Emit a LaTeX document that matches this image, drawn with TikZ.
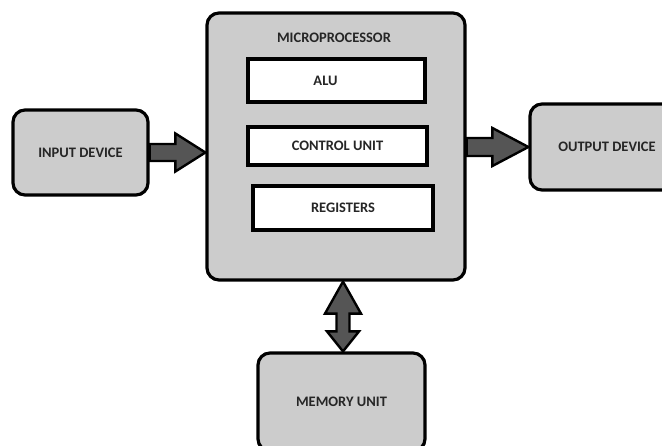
\documentclass[tikz,border=0pt]{standalone}
\usepackage{fontspec}
\setmainfont{Carlito}
\usepackage{tikz}
\usetikzlibrary{positioning,calc}

\definecolor{boxgray}{HTML}{CCCCCC}
\definecolor{arrowgray}{HTML}{555555}

\tikzset{
  lbl/.style={font=\bfseries\fontsize{14.5}{16}\selectfont, text=black!85},
  block/.style={lbl, draw=black, line width=3.2pt, fill=boxgray, rounded corners=12pt},
  unit/.style={lbl, draw=black, line width=3.6pt, fill=white},
  fat/.style={draw=black, line width=2.4pt, fill=arrowgray, line join=miter}
}

\begin{document}
\begin{tikzpicture}[x=1pt,y=-1pt]
    \useasboundingbox (0,0) rectangle (662,446);

    \node[block, minimum width=135pt, minimum height=85pt] (inp) at (80.5,152.5) {INPUT DEVICE};
    \node[block, minimum width=258pt, minimum height=267pt] (mp) at (336,146.5) {};
    \node[lbl] (mptitle) at (334,38) {MICROPROCESSOR};
    \node[unit, minimum width=177pt, minimum height=43pt] (alu) at (336.5,80.5) {\hspace*{-22pt}ALU};
    \node[unit, minimum width=179pt, minimum height=38pt] (cu) at (337.5,146) {CONTROL UNIT};
    \node[unit, minimum width=180pt, minimum height=44pt] (reg) at (343,208) {REGISTERS};
    \node[block, minimum width=154pt, minimum height=86pt] (out) at (607,147) {OUTPUT DEVICE};
    \node[block, minimum width=167pt, minimum height=98pt] (mem) at (341.5,402) {MEMORY UNIT};

    % input -> microprocessor
    \coordinate (a1) at (inp.east);
    \coordinate (a2) at (mp.west |- inp.east);
    \draw[fat] ($(a1)+(0,-8.5)$) -- ($(a2)+(-30,-8.5)$) -- ($(a2)+(-30,-19)$) -- (a2)
        -- ($(a2)+(-30,19)$) -- ($(a2)+(-30,8.5)$) -- ($(a1)+(0,8.5)$) -- cycle;

    % microprocessor -> output
    \coordinate (b1) at (mp.east |- out.west);
    \coordinate (b2) at (out.west);
    \draw[fat] ($(b1)+(0,-9)$) -- ($(b2)+(-36,-9)$) -- ($(b2)+(-36,-19)$) -- (b2)
        -- ($(b2)+(-36,19)$) -- ($(b2)+(-36,9)$) -- ($(b1)+(0,9)$) -- cycle;

    % microprocessor <-> memory
    \coordinate (c1) at ($(mem.north |- mp.south)+(1.5,0)$);
    \coordinate (c2) at ($(mem.north)+(1.5,0)$);
    \draw[fat] (c1) -- ($(c1)+(18,32)$) -- ($(c1)+(6.5,32)$) -- ($(c2)+(6.5,-20)$)
        -- ($(c2)+(16,-20)$) -- (c2) -- ($(c2)+(-16,-20)$) -- ($(c2)+(-6.5,-20)$)
        -- ($(c1)+(-6.5,32)$) -- ($(c1)+(-18,32)$) -- cycle;
\end{tikzpicture}
\end{document}
